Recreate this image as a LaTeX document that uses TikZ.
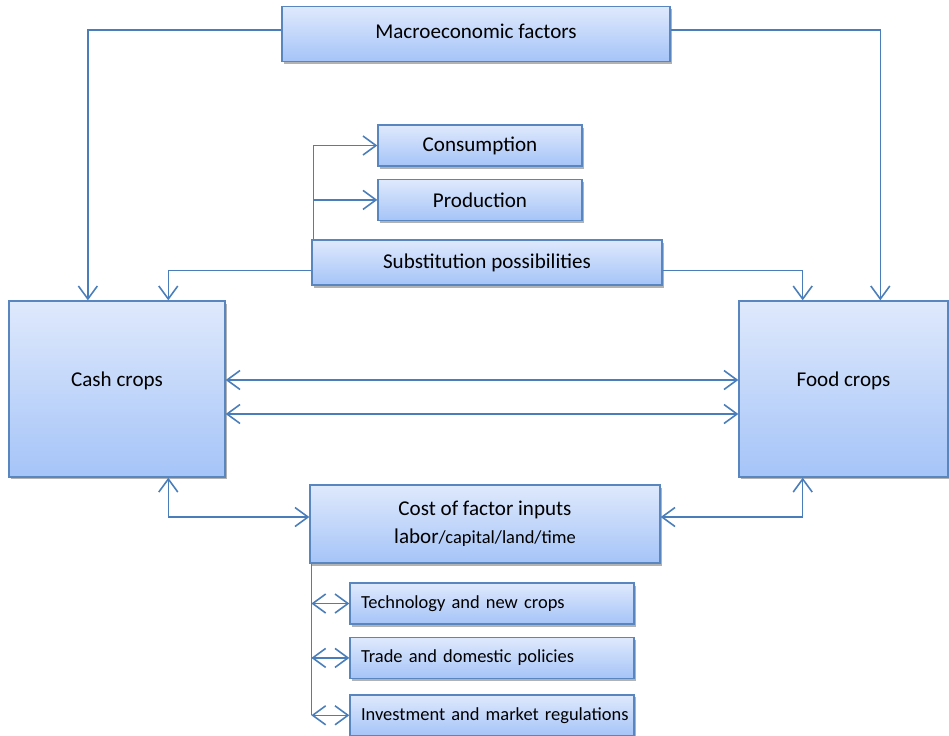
\documentclass[tikz,border=0pt]{standalone}
\usepackage{fontspec}
\setmainfont{Carlito}
\usepackage{tikz}
\usetikzlibrary{positioning,shapes,arrows.meta,calc,shadows}
\definecolor{boxtop}{HTML}{DFE9FC}
\definecolor{boxbot}{HTML}{A5C4F8}
\definecolor{boxline}{HTML}{5A86C0}
\definecolor{linkblue}{HTML}{4A7EBB}

\begin{document}
\begin{tikzpicture}[x=0.02cm, y=-0.02cm]
\tikzset{
    block/.style={rectangle, draw=boxline, line width=0.8pt, top color=boxtop, bottom color=boxbot, align=center,
        drop shadow={shadow xshift=0.04cm, shadow yshift=-0.05cm, opacity=0.3, fill=black}, font=\fontsize{12}{14}\selectfont},
    bigblock/.style={block, minimum height=3.52cm, text depth=0.4cm},
    smallblock/.style={block, minimum width=5.68cm, minimum height=0.82cm, text width=5.68cm, align=left, inner xsep=0pt,
        execute at begin node=\hspace*{0.22cm}, font=\fontsize{10.5}{12}\selectfont},
    link/.style={draw=linkblue, line width=0.9pt},
    arrow/.style={link, -{Straight Barb[length=0.26cm, width=0.38cm]}},
    biarrow/.style={link, {Straight Barb[length=0.26cm, width=0.38cm]}-{Straight Barb[length=0.26cm, width=0.38cm]}}
}
\useasboundingbox (0,0) rectangle (949,735);
\node[block, minimum width=7.76cm, minimum height=1.1cm, text depth=0.12cm] (macro) at (476,34) {Macroeconomic factors};
\node[block, minimum width=4.08cm, minimum height=0.82cm] (cons) at (480,145.5) {Consumption};
\node[block, minimum width=4.08cm, minimum height=0.82cm, below=0.24cm of cons] (prod) {Production};
\node[block, minimum width=7.0cm, minimum height=0.9cm] (subst) at (487,262.5) {Substitution possibilities};
\node[bigblock, minimum width=4.32cm] (cash) at (117,389) {Cash crops};
\node[bigblock, minimum width=4.18cm] (food) at (843.5,389) {Food crops};
\node[block, minimum width=7.0cm, minimum height=1.56cm] (cost) at (485,524) {Cost of factor inputs\\[2pt] labor{\fontsize{10.5}{12}\selectfont/capital/land/time}};
\node[smallblock] (tech) at (492,603.5) {Technology and new crops};
\node[smallblock, below=0.24cm of tech] (trade) {Trade and domestic policies};
\node[smallblock, below=0.3cm of trade] (invest) {Investment and market regulations};

\coordinate (top) at ([xshift=0.04cm]subst.north west);
\coordinate (trunk) at ([xshift=0.04cm]cost.south west);

\draw[arrow] ([yshift=0.08cm]macro.west) -| ($(cash.north west)!0.366!(cash.north east)$);
\draw[arrow] ([yshift=0.08cm]macro.east) -| ($(food.north west)!0.675!(food.north east)$);
\draw[arrow] (top) |- (cons.west);
\draw[arrow] (top) |- (prod.west);
\draw[arrow] ([yshift=-0.16cm]subst.west) -| ($(cash.north west)!0.736!(cash.north east)$);
\draw[arrow] ([yshift=-0.16cm]subst.east) -| ($(food.north west)!0.306!(food.north east)$);
\draw[biarrow] ([yshift=0.18cm]cash.east) -- ([yshift=0.18cm]food.west);
\draw[biarrow] ([yshift=-0.5cm]cash.east) -- ([yshift=-0.5cm]food.west);
\draw[biarrow] ($(cash.south west)!0.736!(cash.south east)$) |- ([yshift=0.14cm]cost.west);
\draw[biarrow] ($(food.south west)!0.306!(food.south east)$) |- ([yshift=0.14cm]cost.east);
\draw[link] (trunk) -- (trunk |- invest.west);
\draw[biarrow] (trunk |- tech.west) -- (tech.west);
\draw[biarrow] (trunk |- trade.west) -- (trade.west);
\draw[biarrow] (trunk |- invest.west) -- (invest.west);
\end{tikzpicture}
\end{document}
